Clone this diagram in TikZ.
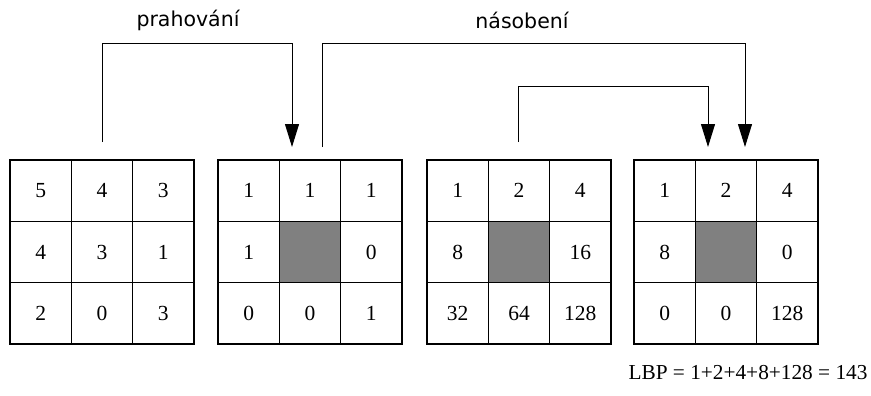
\documentclass[tikz,border=0pt]{standalone}
\usepackage{fontspec}
\setmainfont{Liberation Serif}
\newfontfamily\labfont{DejaVu Sans}
\usetikzlibrary{arrows.meta}
\newcommand\lbpgrid[3]{%
  \foreach \v/\s [count=\i from 0] in {#3} {
    \pgfmathtruncatemacro\rr{div(\i,3)}
    \pgfmathtruncatemacro\cc{mod(\i,3)}
    \node[\s] (#1-\rr\cc) at (#2+30.67+61.33*\cc, 190.67+61.33*\rr) {\v};
  }}
\begin{document}
\begin{tikzpicture}[x=1pt,y=-1pt,
  cell/.style={draw, line width=1.2pt, minimum size=61.33pt, inner sep=0pt, anchor=center, font=\fontsize{21.5}{21.5}\selectfont},
  hole/.style={cell, fill=gray},
  conn/.style={line width=1pt, -{Triangle[width=14pt,length=23pt]}},
  lab/.style={font=\labfont\fontsize{20.5}{20.5}\selectfont}]
\useasboundingbox (0,0) rectangle (871,396);
\lbpgrid{ga}{10}{5/cell,4/cell,3/cell,4/cell,3/cell,1/cell,2/cell,0/cell,3/cell}
\lbpgrid{gb}{218}{1/cell,1/cell,1/cell,1/cell,{}/hole,0/cell,0/cell,0/cell,1/cell}
\lbpgrid{gc}{427}{1/cell,2/cell,4/cell,8/cell,{}/hole,16/cell,32/cell,64/cell,128/cell}
\lbpgrid{gd}{634}{1/cell,2/cell,4/cell,8/cell,{}/hole,0/cell,0/cell,0/cell,128/cell}
\coordinate (a0) at (102,142);
\coordinate (a1) at (292,147);
\coordinate (b0) at (322,147);
\coordinate (b1) at (745,147);
\coordinate (c0) at (518,142);
\coordinate (c1) at (708,147);
\draw[conn] (a0) -- (a0 |- 0,44) -| (a1);
\draw[conn] (b0) -- (b0 |- 0,44) -| (b1);
\draw[conn] (c0) -- (c0 |- 0,87) -| (c1);
\node[lab] (t1) at (188,20) {prahování};
\node[lab] (t2) at (522,20) {násobení};
\node[font=\fontsize{21.3}{21.3}\selectfont] (lbp) at (748,373) {LBP = 1+2+4+8+128 = 143};
\end{tikzpicture}
\end{document}
